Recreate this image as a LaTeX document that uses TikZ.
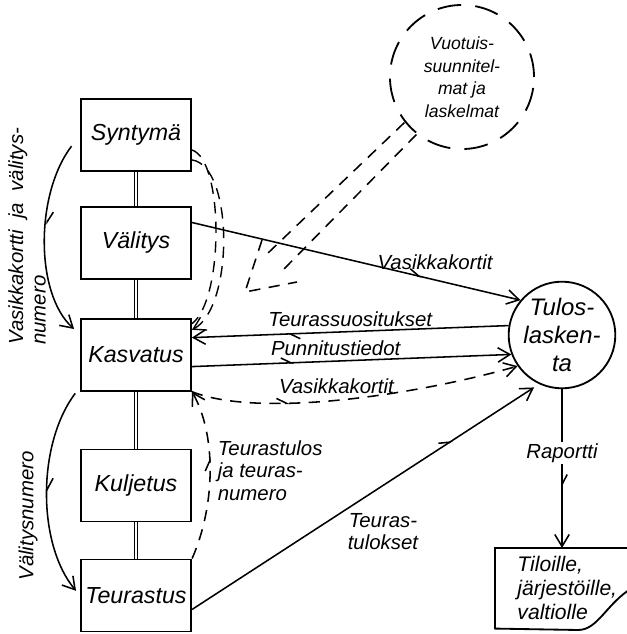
\documentclass[tikz,border=0pt]{standalone}
\usepackage{fontspec}
\setmainfont{Liberation Sans}
\usetikzlibrary{arrows.meta,positioning,decorations.markings}

\begin{document}
\begin{tikzpicture}[
  x=0.025cm, y=0.025cm,
  every node/.style={font=\itshape},
  stage/.style={draw, line width=1.3pt, minimum width=2.75cm, minimum height=1.8cm, font=\fontsize{16.5}{19}\selectfont\itshape},
  bubble/.style={draw, circle, align=center, inner sep=0pt, line width=1.3pt},
  lab/.style={font=\fontsize{14.5}{16}\selectfont\itshape, inner sep=1pt},
  arrow/.style={-{Straight Barb[length=3mm,width=3.6mm]}, line width=1.1pt},
  broken/.style={dash pattern=on 8pt off 6pt},
  link/.style={double, double distance=1.4pt, line width=0.7pt},
  midtip/.style={postaction={decorate}, decoration={markings, mark=at position #1 with {\arrow{Straight Barb[harpoon,length=2.5mm,width=2.6mm]}}}}
]
\useasboundingbox (0,0) rectangle (627,634);

% chain of stages
\node[stage] (syn) at (136,499) {Syntymä};
\node[stage, below=0.85cm of syn] (val) {Välitys};
\node[stage, below=0.95cm of val] (kas) {Kasvatus};
\node[stage, below=1.425cm of kas] (kul) {Kuljetus};
\node[stage, below=0.9cm of kul] (teu) {Teurastus};

\draw[link] (syn) -- (val);
\draw[link] (val) -- (kas);
\draw[link] (kas) -- (kul);
\draw[link] (kul) -- (teu);

% planning and accounting
\node[bubble, dash pattern=on 17pt off 10pt, minimum size=3.6cm, font=\fontsize{12.5}{16}\selectfont\itshape] (plan) at (462,557) {Vuotuis-\\suunnitel-\\mat ja\\laskelmat};
\node[bubble, minimum size=2.65cm, font=\fontsize{17}{20}\selectfont\itshape] (tulos) at (562,299) {Tulos-\\lasken-\\ta};
\node[anchor=north west, minimum width=3.6cm, minimum height=2cm, inner xsep=0.3cm, align=left, font=\fontsize{15}{17}\selectfont\itshape] (rep) at (495,86) {Tiloille,\\järjestöille,\\valtiolle};
\draw[line width=1.3pt] (rep.north east) -- (rep.north west) -- (rep.south west) -- (578,4) .. controls (598,4) and (606,30) .. (632,46);
\coordinate (aim) at (245,342);

% side flows on the left
\draw[arrow, midtip=0.45, shorten <=0.35cm, shorten >=0.2cm] (syn.west) .. controls (35,440) and (35,340) .. (kas.160);
\draw[arrow, midtip=0.5, shorten <=0.2cm, shorten >=0.15cm] (kas.210) .. controls (37,190) and (37,90) .. (teu.west);
\node[lab, rotate=90, anchor=north west, align=left, inner sep=0pt] (vklab) at (8,289) {Vasikkakortti~ ja~ välitys-\\numero};
\node[lab, rotate=90] (vnlab) at (28,118) {Välitysnumero};

% plans back to the farm
\draw[broken, line width=1pt] (syn.-15) .. controls (224,474) and (224,334) .. (kas.29);
\draw[broken, arrow, line width=1pt] (syn.-24) .. controls (234,468) and (234,326) .. (kas.24);
\draw[broken, line width=1.1pt] ([shift={(-6,6)}]plan.225) -- ([shift={(22,38)}]aim);
\draw[broken, line width=1.1pt] ([shift={(6,-6)}]plan.225) -- ([shift={(38,22)}]aim);
\draw[broken, line width=1.1pt] ([shift={(17,52)}]aim) -- (aim) -- ([shift={(52,10)}]aim);

% flows to the right
\draw[arrow, midtip=0.7] (val.20) -- (tulos.140) node[lab, pos=0.74, above=6pt] {Vasikkakortit};
\draw[arrow, midtip=0.7] (tulos.170) -- (kas.17) node[lab, midway, above=2pt] {Teurassuositukset};
\draw[arrow, midtip=0.32] (kas.-12) -- (tulos.201) node[lab, pos=0.45, above=2pt] {Punnitustiedot};
\draw[arrow, broken, midtip=0.3] (kas.south east) .. controls (260,215) and (420,240) .. (tulos.215) node[lab, pos=0.48, above=3pt] {Vasikkakortit};
\draw[arrow, broken, midtip=0.6] (teu.north east) .. controls (216,130) and (216,200) .. (kas.south east) node[lab, pos=0.5, right=4pt, align=left] {Teurastulos\\ja teuras-\\numero};
\draw[arrow, midtip=0.75, shorten >=1.5mm] (teu.-14) -- (tulos.245) node[lab, pos=0.55, below=18pt, align=center] {Teuras-\\tulokset};
\draw[arrow, midtip=0.62] (tulos.south) -- (tulos.south |- rep.north) node[lab, pos=0.4, fill=white] {Raportti};

\end{tikzpicture}
\end{document}
